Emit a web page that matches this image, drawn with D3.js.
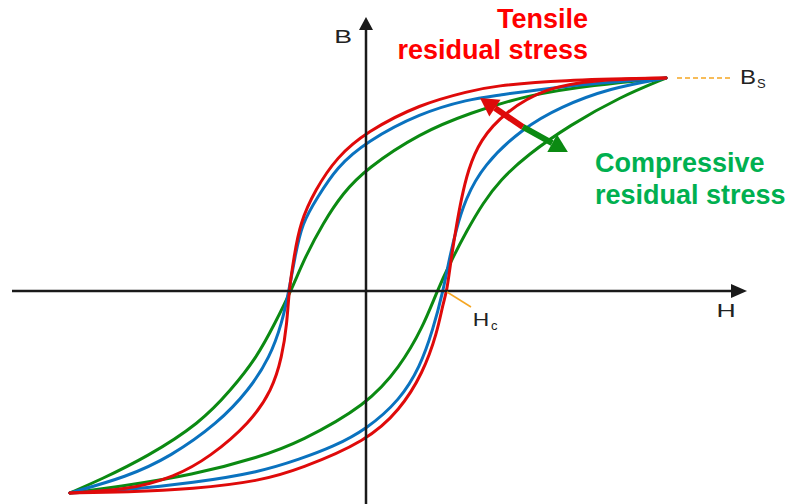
<!DOCTYPE html>
<html>
<head>
<meta charset="utf-8">
<script src="https://cdn.jsdelivr.net/npm/d3@7"></script>
<style>
  body { margin: 0; background: #fff; }
  text { font-family: "Liberation Sans", Arial, sans-serif; }
</style>
</head>
<body>
<script>
(()=>{
    const width = 789;
    const height = 504;

    // loops as [H, B] pairs (H, B in relative units, Bs = 100)
    // upper branch goes from +Bs down to -Bs, lower branch back up
    const greenUpper = [[100,100],[75.7,96.7],[53.7,92.0],[34.7,83.6],[18,74.2],[0,57.3],[-7.7,46.0],[-14.3,31.9],[-20.3,16.0],[-25,0],[-30.3,-15.0],[-36.3,-31.0],[-45,-46.5],[-55.3,-62.0],[-73,-77.9],[-88.7,-88.7],[-98.7,-94.8]];
    const greenLower = [[-98.7,-94.8],[-83,-92.0],[-57.7,-86.4],[-35.3,-77.9],[-22,-70.9],[0.3,-53.5],[11.3,-35.7],[19,-16.9],[23.7,0],[28,13.1],[33.7,28.6],[39,41.3],[44.7,52.1],[53.7,63.8],[68,77.9],[84.7,91.1],[100,100]];
    const blueUpper = [[100,100],[64.7,96.2],[42.3,91.5],[34.7,90.1],[18,83.6],[0,70.0],[-9.7,58.2],[-16.3,43.7],[-21.3,31.9],[-23.7,16.0],[-25.7,0],[-28,-15.0],[-32,-31.0],[-39,-46.5],[-49.3,-62.0],[-65.3,-77.9],[-79.7,-87.3],[-98.7,-94.8]];
    const blueLower = [[-98.7,-94.8],[-79.7,-93.4],[-57.7,-90.1],[-35.3,-85.0],[-22,-78.9],[-11,-73.2],[0.3,-64.8],[11.3,-51.2],[18,-35.7],[22.3,-18.3],[25.7,0],[27.7,14.6],[30,28.6],[33,42.7],[39,59],[52.3,76.5],[64.7,86.4],[81.3,95.3],[100,100]];
    const redUpper = [[100,100],[64.7,99.1],[42.3,96.2],[34.7,93.9],[18,87.8],[0,74.6],[-9.7,62.9],[-17,47.4],[-22,31.9],[-24,16.0],[-25.7,0],[-26.3,-15.0],[-28,-31.0],[-31.3,-46.5],[-38.7,-62.0],[-52,-77.9],[-63.7,-87.3],[-79.7,-93.4],[-98.7,-94.8]];
    const redLower = [[-98.7,-94.8],[-79.7,-94.4],[-57.7,-93.0],[-35.3,-89.2],[-22,-83.6],[0.3,-70.4],[11.3,-55.9],[19,-38.5],[23.7,-19.7],[25.7,-5.6],[27,0],[28.3,14.6],[30.3,31.9],[31.7,42.7],[34,56.8],[38,70.9],[46.3,84.0],[59.7,95.3],[75.7,99.1],[100,100]];

    const loops = [
        {name: "compressive", color: "#0b8a12", upper: greenUpper, lower: greenLower},
        {name: "none", color: "#0a72bf", upper: blueUpper, lower: blueLower},
        {name: "tensile", color: "#df0a0a", upper: redUpper, lower: redLower}
    ];

    // stress arrow: tip (tensile) -> middle -> tip (compressive)
    const arrowTensile = [38, 90.6];
    const arrowMid = [52.3, 77];
    const arrowCompressive = [67.3, 65.3];

    const hc = 27;      // coercive field of the tensile loop
    const bs = 100;     // saturation

    const x = d3.scaleLinear().domain([-118, 127]).range([12, 747]);
    const y = d3.scaleLinear().domain([-100, 100]).range([504, 78]);

    const svg = d3.create("svg")
        .attr("width", width)
        .attr("height", height)
        .attr("viewBox", [0, 0, width, height]);

    const line = d3.line()
        .x(d => x(d[0]))
        .y(d => y(d[1]))
        .curve(d3.curveBasis);

    // loops
    const g = svg.append("g").attr("fill", "none").attr("stroke-width", 3).attr("stroke-linecap", "round");
    loops.forEach(l => {
        g.append("path").attr("d", line(l.upper)).attr("stroke", l.color);
        g.append("path").attr("d", line(l.lower)).attr("stroke", l.color);
    });

    // axes with arrow heads
    const axisColor = "#1a1a1a";
    svg.append("line")
        .attr("x1", x(-118)).attr("x2", x(127) - 12)
        .attr("y1", y(0)).attr("y2", y(0))
        .attr("stroke", axisColor).attr("stroke-width", 2.5);
    svg.append("path")
        .attr("d", `M${x(127)},${y(0)} L${x(127) - 16},${y(0) - 7} L${x(127) - 16},${y(0) + 7} Z`)
        .attr("fill", axisColor);
    const yTop = 17;
    svg.append("line")
        .attr("x1", x(0)).attr("x2", x(0))
        .attr("y1", height).attr("y2", yTop + 12)
        .attr("stroke", axisColor).attr("stroke-width", 2.5);
    svg.append("path")
        .attr("d", `M${x(0)},${yTop} L${x(0) - 7},${yTop + 13} L${x(0) + 7},${yTop + 13} Z`)
        .attr("fill", axisColor);

    // axis labels (slightly wide letters in the original)
    svg.append("text")
        .attr("transform", `translate(${x(0) - 23},43) scale(1.4,1)`)
        .attr("text-anchor", "middle").attr("font-size", 19).attr("fill", "#222")
        .text("B");
    svg.append("text")
        .attr("transform", `translate(726,317) scale(1.4,1)`)
        .attr("text-anchor", "middle").attr("font-size", 19).attr("fill", "#222")
        .text("H");

    // Hc marker
    const orange = "#f5a623";
    svg.append("line")
        .attr("x1", x(hc)).attr("y1", y(0) + 1)
        .attr("x2", x(hc) + 24).attr("y2", y(0) + 16)
        .attr("stroke", orange).attr("stroke-width", 1.5);
    svg.append("text")
        .attr("transform", `translate(${x(hc) + 34},326) scale(1.2,1)`)
        .attr("text-anchor", "middle").attr("font-size", 19).attr("fill", "#222")
        .text("H");
    svg.append("text")
        .attr("x", x(hc) + 44).attr("y", 330)
        .attr("font-size", 13).attr("fill", "#222")
        .text("c");

    // Bs marker
    svg.append("line")
        .attr("x1", x(bs) + 11).attr("x2", x(bs) + 64)
        .attr("y1", y(bs)).attr("y2", y(bs))
        .attr("stroke", orange).attr("stroke-width", 1.5)
        .attr("stroke-dasharray", "5,3");
    svg.append("text")
        .attr("transform", `translate(${x(bs) + 82},84) scale(1.2,1)`)
        .attr("text-anchor", "middle").attr("font-size", 20).attr("fill", "#222")
        .text("B");
    svg.append("text")
        .attr("x", x(bs) + 91).attr("y", 88)
        .attr("font-size", 13).attr("fill", "#222")
        .text("S");

    // double arrow
    const arrowHalf = (from, to, color) => {
        const x0 = x(from[0]), y0 = y(from[1]);
        const x1 = x(to[0]), y1 = y(to[1]);
        const a = Math.atan2(y1 - y0, x1 - x0);
        const headLen = 18, headW = 10;
        const bx = x1 - headLen * Math.cos(a), by = y1 - headLen * Math.sin(a);
        svg.append("line")
            .attr("x1", x0).attr("y1", y0).attr("x2", bx).attr("y2", by)
            .attr("stroke", color).attr("stroke-width", 6);
        svg.append("path")
            .attr("d", `M${x1},${y1} L${bx + headW * Math.sin(a)},${by - headW * Math.cos(a)} L${bx - headW * Math.sin(a)},${by + headW * Math.cos(a)} Z`)
            .attr("fill", color);
    };
    arrowHalf(arrowMid, arrowTensile, "#dd0a0a");
    arrowHalf(arrowMid, arrowCompressive, "#0b8a12");

    // stress labels
    const red = svg.append("text")
        .attr("text-anchor", "end").attr("font-size", 27).attr("font-weight", "bold").attr("fill", "#ff0000");
    red.append("tspan").attr("x", 588).attr("y", 28).text("Tensile");
    red.append("tspan").attr("x", 588).attr("y", 59).text("residual stress");

    const green = svg.append("text")
        .attr("font-size", 27).attr("font-weight", "bold").attr("fill", "#00b050");
    green.append("tspan").attr("x", 595).attr("y", 172).text("Compressive");
    green.append("tspan").attr("x", 595).attr("y", 204).text("residual stress");

    d3.select("body").append(() => svg.node());
})()
</script>
</body>
</html>
